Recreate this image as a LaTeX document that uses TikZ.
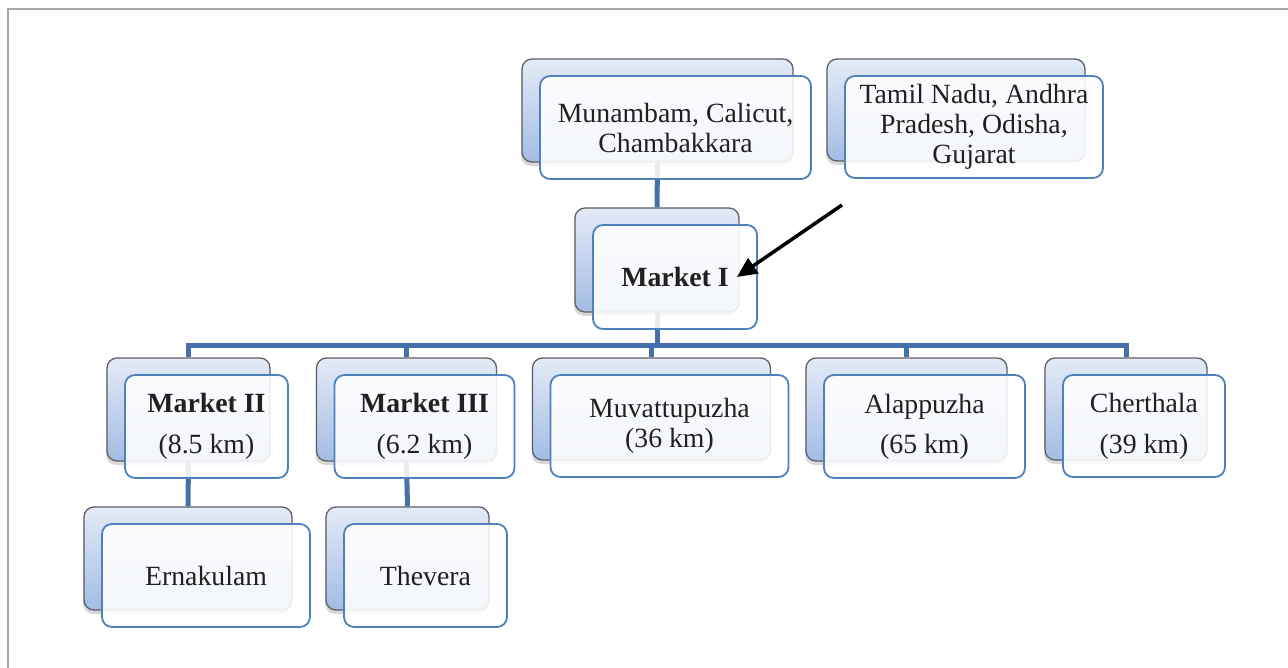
\documentclass[tikz,border=0pt]{standalone}
\usepackage{fontspec}
\setmainfont{Liberation Serif}
\usepackage{tikz}
\usetikzlibrary{shadows,arrows.meta,backgrounds}

\definecolor{linkblue}{RGB}{70,113,168}
\definecolor{rimblue}{RGB}{79,129,189}
\definecolor{backtop}{RGB}{228,235,247}
\definecolor{backbot}{RGB}{163,188,228}
\definecolor{rimgrey}{RGB}{95,95,100}
\definecolor{inkdark}{RGB}{35,31,32}

\tikzset{
  backbox/.style={draw=rimgrey, line width=1.3pt, rounded corners=10pt,
    top color=backtop, bottom color=backbot,
    drop shadow={shadow xshift=-1pt, shadow yshift=-4pt, opacity=0.3}},
  frontbox/.style={draw=rimblue, line width=1.8pt, rounded corners=10pt,
    fill=white, fill opacity=0.88, text opacity=1, text=inkdark,
    align=center, inner sep=0pt, font=\fontsize{27.8}{30}\selectfont},
  link/.style={draw=linkblue, line width=5pt},
  pointer/.style={draw=black, line width=3.5pt, -{Triangle[length=20pt,width=18pt]}},
  frame/.style={draw=black!35, line width=2pt}
}

\begin{document}
\begin{tikzpicture}[x=1pt, y=-1pt]
    \useasboundingbox (0,0) rectangle (1288,668);

    % sources
    \node[backbox, minimum width=271pt, minimum height=103pt] (munB) at (657.5,110.5) {};
    \node[frontbox, minimum width=271pt, minimum height=103pt] (mun) at ([shift={(18,17)}]munB) {Munambam, Calicut,\\Chambakkara};
    \node[backbox, minimum width=258pt, minimum height=102pt] (tamB) at (956,110) {};
    \node[frontbox, minimum width=258pt, minimum height=102pt] (tam) at ([shift={(18,17)}]tamB) {Tamil Nadu, Andhra\\Pradesh, Odisha,\\Gujarat};

    % main market
    \node[backbox, minimum width=164pt, minimum height=104pt] (m1B) at (657,260) {};
    \node[frontbox, minimum width=164pt, minimum height=104pt] (m1) at ([shift={(18,17)}]m1B) {\textbf{Market I}};

    % second row
    \node[backbox, minimum width=163pt, minimum height=103pt] (m2B) at (188.5,409.5) {};
    \node[frontbox, minimum width=163pt, minimum height=103pt] (m2) at ([shift={(18,17)}]m2B) {\textbf{Market II}\\[11pt](8.5 km)};
    \node[backbox, minimum width=180pt, minimum height=103pt] (m3B) at (406.5,409.5) {};
    \node[frontbox, minimum width=180pt, minimum height=103pt] (m3) at ([shift={(18,17)}]m3B) {\textbf{Market III}\\[11pt](6.2 km)};
    \node[backbox, minimum width=238pt, minimum height=102pt] (muvB) at (651.5,409) {};
    \node[frontbox, minimum width=238pt, minimum height=102pt] (muv) at ([shift={(18,17)}]muvB) {Muvattupuzha\\(36 km)};
    \node[backbox, minimum width=201pt, minimum height=103pt] (alaB) at (906.5,409.5) {};
    \node[frontbox, minimum width=201pt, minimum height=103pt] (ala) at ([shift={(18,17)}]alaB) {Alappuzha\\[10pt](65 km)};
    \node[backbox, minimum width=162pt, minimum height=102pt] (cheB) at (1126,409) {};
    \node[frontbox, minimum width=162pt, minimum height=102pt] (che) at ([shift={(18,17)}]cheB) {Cherthala\\[11pt](39 km)};

    % third row
    \node[backbox, minimum width=208pt, minimum height=103pt] (ernB) at (188,558.5) {};
    \node[frontbox, minimum width=208pt, minimum height=103pt] (ern) at ([shift={(18,17)}]ernB) {Ernakulam};
    \node[backbox, minimum width=163pt, minimum height=103pt] (theB) at (407.5,558.5) {};
    \node[frontbox, minimum width=163pt, minimum height=103pt] (the) at ([shift={(18,17)}]theB) {Thevera};

    \coordinate (bar) at (0,346);
    \coordinate (src) at (842,205);

    \begin{scope}[on background layer]
      \fill[white] (0,0) rectangle (1288,668);
      \draw[link] (munB.south) -- (m1B.north);
      \draw[link] (m1B.south) -- (m1B.south |- bar);
      \draw[link] (m2B.north) -- (m2B.north |- bar) -| (cheB.north);
      \foreach \n in {m3B, muvB, alaB}
        \draw[link] (\n.north) -- (\n.north |- bar);
      \draw[link] (m2B.south) -- (ernB.north);
      \draw[link] (m3B.south) -- (theB.north);
    \end{scope}

    \draw[pointer] (src) -- ([xshift=-21pt]m1.east);

    \draw[frame] (8,668) -- (8,9) -- (1288,9);
\end{tikzpicture}
\end{document}
